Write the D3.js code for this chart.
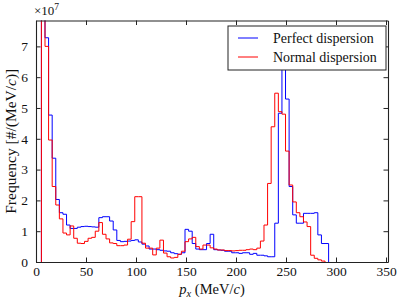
<!DOCTYPE html>
<html>
<head>
<meta charset="utf-8">
<script src="https://cdn.jsdelivr.net/npm/d3@7"></script>
<style>
  body { margin: 0; background: #fff; }
  svg text { font-family: "Liberation Serif", "DejaVu Serif", serif; }
</style>
</head>
<body>
<div id="chart"></div>
<script>
// histogram bins (MeV/c), values in units of 1e7 per (MeV/c)
var binStart = 5.41, binWidth = 3.59;

var perfect = [9.5, 7.28, 4.77, 3.37, 2.03, 1.6, 1.55, 1.2, 1.09, 1.09,
  1.13, 1.15, 1.16, 1.15, 1.14, 1.13, 1.44, 1.47, 1.47, 1.33,
  1.04, 0.7, 0.66, 0.67, 0.68, 0.7, 0.72, 0.65, 0.58, 0.52,
  0.42, 0.42, 0.4, 0.38, 0.36, 0.35, 0.3, 0.27, 0.25, 0.3,
  1.06, 1.0, 0.6, 0.42, 0.4, 0.4, 0.6, 0.9, 0.4, 0.39,
  0.38, 0.35, 0.35, 0.3, 0.3, 0.28, 0.3, 0.3, 0.25, 0.28,
  0.22, 0.22, 0.2, 0.17, 0.17, 1.26, 4.83, 7.0, 5.29, 2.45,
  1.53, 1.26, 1.26, 1.58, 1.58, 1.58, 1.6, 0.88, 0.6, 0.6];

var normal = [9.0, 7.0, 3.96, 2.45, 1.85, 1.4, 0.94, 0.88, 1.17, 0.77,
  0.61, 0.6, 0.67, 0.77, 0.8, 1.0, 1.28, 0.9, 0.75, 0.62,
  0.6, 0.53, 0.53, 0.55, 0.74, 1.31, 2.12, 2.12, 0.61, 0.45,
  0.45, 0.23, 0.45, 0.71, 0.29, 0.17, 0.13, 0.15, 0.25, 0.35,
  0.66, 0.75, 0.8, 0.5, 0.42, 0.55, 0.55, 0.46, 0.42, 0.39,
  0.39, 0.37, 0.37, 0.36, 0.37, 0.38, 0.38, 0.4, 0.42, 0.4,
  0.45, 0.68, 1.2, 2.55, 4.39, 5.48, 4.88, 4.8, 3.6, 2.5,
  1.95, 1.6, 1.47, 1.3, 1.15, 0.22, 0.12, 0.07, 0.03];

var xTicks = [0, 50, 100, 150, 200, 250, 300, 350];
var yTicks = [0, 1, 2, 3, 4, 5, 6, 7];

var series = [
  {name: "Perfect dispersion", values: perfect, color: "#0000ff"},
  {name: "Normal dispersion", values: normal, color: "#ff0000"}
];

var W = 400, H = 300;
var margin = {l: 36, r: 12, t: 20.5, b: 38};

var svg = d3.select("#chart").append("svg")
  .attr("width", W).attr("height", H);

var X = d3.scaleLinear().domain([0, 352]).range([margin.l, W - margin.r]),
    Y = d3.scaleLinear().domain([0, 7.84]).range([H - margin.b, margin.t]);

svg.append("clipPath").attr("id", "plotclip")
  .append("rect")
  .attr("x", X(0)).attr("y", Y(7.84))
  .attr("width", X(352) - X(0)).attr("height", Y(0) - Y(7.84));

function stepPoints(vals) {
  var pts = [[binStart, 0]];
  vals.forEach(function(v, i) { pts.push([binStart + i * binWidth, v]); });
  pts.push([binStart + vals.length * binWidth, 0]);
  return pts;
}

var line = d3.line()
  .x(function(d) { return X(d[0]); })
  .y(function(d) { return Y(d[1]); })
  .curve(d3.curveStepAfter);

svg.append("g").attr("clip-path", "url(#plotclip)")
  .selectAll("path.hist").data(series).enter().append("path")
  .attr("class", "hist")
  .attr("d", function(d) { return line(stepPoints(d.values)); })
  .style("fill", "none")
  .style("stroke", function(d) { return d.color; })
  .style("stroke-width", 1);

// axes: ticks inward on all four sides
var tickLen = 4.5;
var axisColor = "#222";

var xb = svg.append("g").attr("transform", "translate(0," + Y(0) + ")")
  .call(d3.axisBottom(X).tickValues(xTicks).tickSizeInner(-tickLen).tickSizeOuter(0).tickPadding(4));
var xt = svg.append("g").attr("transform", "translate(0," + Y(7.84) + ")")
  .call(d3.axisTop(X).tickValues(xTicks).tickSizeInner(-tickLen).tickSizeOuter(0).tickFormat(""));
var yl = svg.append("g").attr("transform", "translate(" + X(0) + ",0)")
  .call(d3.axisLeft(Y).tickValues(yTicks).tickSizeInner(-tickLen).tickSizeOuter(0).tickPadding(8));
var yr = svg.append("g").attr("transform", "translate(" + X(352) + ",0)")
  .call(d3.axisRight(Y).tickValues(yTicks).tickSizeInner(-tickLen).tickSizeOuter(0).tickFormat(""));

[xb, xt, yl, yr].forEach(function(a) {
  a.select(".domain").style("stroke", axisColor).style("stroke-width", 1.1);
  a.selectAll(".tick line").style("stroke", axisColor).style("stroke-width", 1);
  a.selectAll(".tick text")
    .style("font-family", "'Liberation Serif', serif")
    .style("font-size", "13.5px").style("fill", "#111");
});

// exponent label
var ex = svg.append("text").attr("x", 34).attr("y", 15)
  .style("font-size", "13px").style("fill", "#111");
ex.append("tspan").text("\u00d710");
ex.append("tspan").attr("dy", -5).style("font-size", "9.5px").text("7");

// axis titles
var xl = svg.append("text").attr("x", 212).attr("y", 294)
  .attr("text-anchor", "middle").style("font-size", "14.5px").style("fill", "#111");
xl.append("tspan").style("font-style", "italic").text("p");
xl.append("tspan").attr("dy", 3).style("font-size", "10.5px").style("font-style", "italic").text("x");
xl.append("tspan").attr("dy", -3).text(" (MeV/");
xl.append("tspan").style("font-style", "italic").text("c");
xl.append("tspan").text(")");

var ylab = svg.append("text")
  .attr("transform", "translate(16," + ((Y(0) + Y(7.84)) / 2) + ") rotate(-90)")
  .attr("text-anchor", "middle").style("font-size", "15.5px").style("fill", "#111");
ylab.append("tspan").text("Frequency [#/(MeV/");
ylab.append("tspan").style("font-style", "italic").text("c");
ylab.append("tspan").text(")]");

// legend
var lg = svg.append("g").attr("transform", "translate(228,26)");
lg.append("rect").attr("width", 158).attr("height", 44)
  .style("fill", "#fff").style("stroke", "#222").style("stroke-width", 1);
var li = lg.selectAll(".item").data(series).enter().append("g")
  .attr("class", "item")
  .attr("transform", function(d, i) { return "translate(0," + (12 + i * 19) + ")"; });
li.append("line").attr("x1", 10).attr("x2", 30)
  .style("stroke", function(d) { return d.color; }).style("stroke-width", 1);
li.append("text").attr("x", 45).attr("y", 4.5)
  .style("font-size", "14px").style("fill", "#111")
  .text(function(d) { return d.name; });
</script>
</body>
</html>
